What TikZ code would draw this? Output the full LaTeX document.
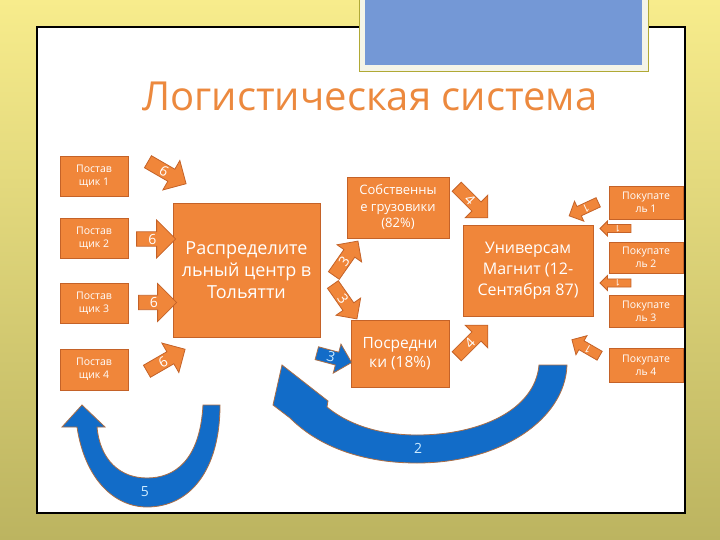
\documentclass[tikz,border=0pt]{standalone}
\usepackage{fontspec}
\setmainfont{Open Sans}
\usetikzlibrary{shapes.arrows}

\definecolor{boxorange}{RGB}{240,134,58}
\definecolor{boxedge}{RGB}{196,98,40}
\definecolor{titleorange}{RGB}{236,137,62}
\definecolor{flowblue}{RGB}{18,108,200}
\definecolor{flowedge}{RGB}{170,110,70}
\definecolor{numblue}{RGB}{205,235,255}
\definecolor{bgyellow}{RGB}{247,236,140}
\definecolor{bgmid}{RGB}{226,214,112}
\definecolor{bgolive}{RGB}{188,180,96}
\definecolor{capblue}{RGB}{116,152,214}
\definecolor{capframe}{RGB}{244,244,232}

\tikzset{
  orangebox/.style={draw=boxedge, fill=boxorange, text=white, align=center, inner sep=0pt, line width=0.8pt},
  smallbox/.style={orangebox, minimum width=68pt, font=\fontsize{10.5}{13}\selectfont},
  buybox/.style={orangebox, minimum width=74pt, font=\fontsize{10.5}{13}\selectfont},
  blockarrow/.style={single arrow, single arrow head extend=#1, draw=boxedge, fill=boxorange,
    text=white, inner sep=0pt, line width=0.8pt},
  bluearrow/.style={fill=flowblue, draw=flowedge, line width=0.8pt},
  bluenum/.style={text=numblue, font=\fontsize{14}{14}\selectfont}
}

\begin{document}
\begin{tikzpicture}[x=1pt, y=-1pt]
  \useasboundingbox (0,0) rectangle (720,540);
  \shade[top color=bgyellow, middle color=bgmid, bottom color=bgolive] (0,0) rectangle (720,540);

  \draw[fill=white, line width=1.2pt] (37,27) rectangle (685,513);
  \draw[fill=capframe, draw=olive!70] (359,-2) rectangle (648,71);
  \fill[capblue] (365,-2) rectangle (642,65);

  \node[text=titleorange, font=\fontsize{40}{48}\selectfont] (title) at (370,96) {Логистическая система};

  \node[smallbox, minimum height=40pt] (sup1) at (94,176) {Постав\\щик 1};
  \node[smallbox, minimum height=40pt] (sup2) at (94,238) {Постав\\щик 2};
  \node[smallbox, minimum height=40pt] (sup3) at (94,303) {Постав\\щик 3};
  \node[smallbox, minimum height=41pt] (sup4) at (94,369.5) {Постав\\щик 4};

  \node[orangebox, minimum width=147pt, minimum height=134pt, font=\fontsize{18}{22}\selectfont] (dc) at (246.5,270) {Распределите\\льный центр в\\Тольятти};
  \node[orangebox, minimum width=102pt, minimum height=61pt, font=\fontsize{13}{16.5}\selectfont] (trucks) at (398,207.5) {Собственны\\е грузовики\\(82\%)};
  \node[orangebox, minimum width=98pt, minimum height=67pt, font=\fontsize{15.5}{18.5}\selectfont] (agents) at (400,353.5) {Посредни\\ки (18\%)};
  \node[orangebox, minimum width=130pt, minimum height=91pt, font=\fontsize{16}{21}\selectfont] (shop) at (528,270.5) {Универсам\\Магнит (12-\\Сентября 87)};

  \node[buybox, minimum height=33pt] (buy1) at (646,202.5) {Покупате\\ль 1};
  \node[buybox, minimum height=31pt] (buy2) at (646,257.5) {Покупате\\ль 2};
  \node[buybox, minimum height=32pt] (buy3) at (646,311) {Покупате\\ль 3};
  \node[buybox, minimum height=34pt] (buy4) at (646,365) {Покупате\\ль 4};

  \node[blockarrow=8pt, minimum height=44pt, minimum width=34pt, rotate=-30, font=\fontsize{14}{14}\selectfont] (six1) at (164,171) {6};
  \node[blockarrow=9pt, minimum height=39pt, minimum width=38pt, font=\fontsize{14}{14}\selectfont] (six2) at (152.5,239) {6};
  \node[blockarrow=9pt, minimum height=38pt, minimum width=38pt, font=\fontsize{14}{14}\selectfont] (six3) at (154,302.5) {6};
  \node[blockarrow=8pt, minimum height=44pt, minimum width=34pt, rotate=30, font=\fontsize{14}{14}\selectfont] (six4) at (163,362) {6};

  \node[blockarrow=7pt, minimum height=42pt, minimum width=30pt, rotate=55, font=\fontsize{14}{14}\selectfont] (three1) at (344,261) {3};
  \node[blockarrow=7pt, minimum height=42pt, minimum width=30pt, rotate=-55, font=\fontsize{14}{14}\selectfont] (three2) at (343,299) {3};
  \node[blockarrow=7pt, minimum height=36pt, minimum width=30pt, rotate=-15, fill=flowblue, draw=flowedge, text=numblue, font=\fontsize{14}{14}\selectfont] (three3) at (331,357) {3};

  \node[blockarrow=8pt, minimum height=44pt, minimum width=32pt, rotate=-45, font=\fontsize{14}{14}\selectfont] (four1) at (470,200) {4};
  \node[blockarrow=8pt, minimum height=44pt, minimum width=32pt, rotate=45, font=\fontsize{14}{14}\selectfont] (four2) at (470,343) {4};

  \node[blockarrow=5pt, minimum height=32pt, minimum width=22pt, rotate=205, font=\fontsize{11}{11}\selectfont] (one1) at (586,208) {1};
  \node[blockarrow=3pt, minimum height=31pt, minimum width=15pt, rotate=180, font=\fontsize{9}{9}\selectfont] (one2) at (617.5,228.5) {1};
  \node[blockarrow=3pt, minimum height=31pt, minimum width=15pt, rotate=180, font=\fontsize{9}{9}\selectfont] (one3) at (617.5,283) {1};
  \node[blockarrow=5pt, minimum height=32pt, minimum width=22pt, rotate=150, font=\fontsize{11}{11}\selectfont] (one4) at (588,349) {1};

  \path[bluearrow] (567,365) -- (539,365)
    .. controls (535,410) and (480,435) .. (417,435)
    .. controls (375,435) and (345,422) .. (327,407)
    -- (328,401) -- (282,365) -- (273,405) -- (290,418)
    .. controls (320,448) and (365,463) .. (417,463)
    .. controls (500,463) and (565,420) .. (567,365) -- cycle;
  \node[bluenum] (two) at (418,448) {2};

  \path[bluearrow] (220,405) -- (203,405)
    .. controls (200,460) and (175,478) .. (147,478)
    .. controls (120,478) and (100,460) .. (97,427)
    -- (105,427) -- (82,405) -- (62,427) -- (77,427)
    .. controls (85,480) and (115,507) .. (147,507)
    .. controls (190,507) and (220,470) .. (220,405) -- cycle;
  \node[bluenum] (five) at (145,492) {5};
\end{tikzpicture}
\end{document}
